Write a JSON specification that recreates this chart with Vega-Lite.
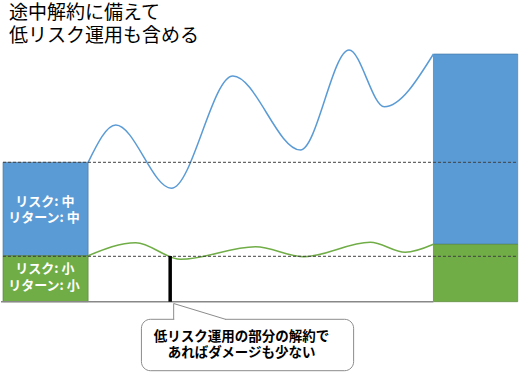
{
  "$schema": "https://vega.github.io/schema/vega-lite/v6.json",
  "width": 520,
  "height": 374,
  "padding": 0,
  "autosize": {"type": "fit", "contains": "padding"},
  "config": {"view": {"stroke": null}},
  "datasets": {
    "bars": [
      {"x": 2, "x2": 87.3, "y": 162.3, "y2": 255.7, "kind": "中"},
      {"x": 2, "x2": 87.3, "y": 255.7, "y2": 301.7, "kind": "小"},
      {"x": 433.3, "x2": 517.7, "y": 54, "y2": 244.3, "kind": "中"},
      {"x": 433.3, "x2": 517.7, "y": 244.3, "y2": 301.7, "kind": "小"}
    ],
    "blue": [
      {"x": 87.3, "y": 162.3},
      {"x": 115, "y": 125},
      {"x": 170.7, "y": 188.3},
      {"x": 232.3, "y": 76},
      {"x": 300, "y": 150},
      {"x": 348.7, "y": 50},
      {"x": 384, "y": 106.7},
      {"x": 433.3, "y": 54}
    ],
    "green": [
      {"x": 87.3, "y": 255.7},
      {"x": 135, "y": 242.7},
      {"x": 180, "y": 259.3},
      {"x": 255, "y": 246.7},
      {"x": 303.3, "y": 256.7},
      {"x": 370, "y": 242.3},
      {"x": 405, "y": 252.3},
      {"x": 433.3, "y": 244.3}
    ],
    "dashes": [
      {"x": 2, "x2": 517.7, "y": 162.3},
      {"x": 2, "x2": 517.7, "y": 256.3}
    ],
    "base": [{"x": 0, "x2": 433.3, "y": 301.7}],
    "cut": [{"x": 169.5, "y": 256, "y2": 301.7}],
    "box": [{"x": 140.7, "x2": 353.3, "y": 319.3, "y2": 370.7}],
    "gap": [{"x": 173.6, "x2": 224.4, "y": 319.3}],
    "pointerEdge": [
      {"x": 173, "y": 303.5, "x2": 173, "y2": 319.3},
      {"x": 173, "y": 303.5, "x2": 225, "y2": 319.3}
    ],
    "title": [
      {"x": 8, "y": 13, "t": "途中解約に備えて"},
      {"x": 8, "y": 35.5, "t": "低リスク運用も含める"}
    ],
    "barText": [
      {"x": 44, "y": 201.7, "t": "リスク: 中"},
      {"x": 43, "y": 218.3, "t": "リターン: 中"},
      {"x": 44, "y": 269.3, "t": "リスク: 小"},
      {"x": 43, "y": 286, "t": "リターン: 小"}
    ],
    "note": [
      {"x": 241, "y": 337, "t": "低リスク運用の部分の解約で"},
      {"x": 241, "y": 352.5, "t": "あればダメージも少ない"}
    ]
  },
  "encoding": {
    "x": {"field": "x", "type": "quantitative", "scale": {"domain": [0, 520], "nice": false, "zero": false}, "axis": null},
    "y": {"field": "y", "type": "quantitative", "scale": {"domain": [0, 374], "nice": false, "zero": false, "reverse": true}, "axis": null}
  },
  "layer": [
    {
      "data": {"name": "bars"},
      "mark": {"type": "rect", "strokeWidth": 1, "strokeOpacity": 0.6},
      "encoding": {
        "x2": {"field": "x2"},
        "y2": {"field": "y2"},
        "color": {"field": "kind", "type": "nominal", "scale": {"domain": ["中", "小"], "range": ["#5B9BD5", "#70AD47"]}, "legend": null},
        "stroke": {"field": "kind", "type": "nominal", "scale": {"domain": ["中", "小"], "range": ["#41719C", "#507E32"]}, "legend": null}
      }
    },
    {
      "data": {"name": "base"},
      "mark": {"type": "rule", "color": "#888888", "strokeWidth": 1.5},
      "encoding": {"x2": {"field": "x2"}}
    },
    {
      "data": {"name": "blue"},
      "mark": {"type": "line", "interpolate": "monotone", "color": "#5B9BD5", "strokeWidth": 1.5},
      "encoding": {"order": {"field": "x", "type": "quantitative"}}
    },
    {
      "data": {"name": "green"},
      "mark": {"type": "line", "interpolate": "monotone", "color": "#70AD47", "strokeWidth": 1.5},
      "encoding": {"order": {"field": "x", "type": "quantitative"}}
    },
    {
      "data": {"name": "dashes"},
      "mark": {"type": "rule", "color": "#404040", "strokeWidth": 1, "strokeDash": [3, 2]},
      "encoding": {"x2": {"field": "x2"}}
    },
    {
      "data": {"name": "cut"},
      "mark": {"type": "rule", "color": "#000000", "strokeWidth": 3.5},
      "encoding": {"y2": {"field": "y2"}}
    },
    {
      "data": {"name": "box"},
      "mark": {"type": "rect", "fill": "#ffffff", "stroke": "#8c8c8c", "strokeWidth": 1, "cornerRadius": 9},
      "encoding": {"x2": {"field": "x2"}, "y2": {"field": "y2"}}
    },
    {
      "data": {"name": "gap"},
      "mark": {"type": "rule", "color": "#ffffff", "strokeWidth": 2.5},
      "encoding": {"x2": {"field": "x2"}}
    },
    {
      "data": {"name": "pointerEdge"},
      "mark": {"type": "rule", "color": "#8c8c8c", "strokeWidth": 1},
      "encoding": {"x2": {"field": "x2"}, "y2": {"field": "y2"}}
    },
    {
      "data": {"name": "title"},
      "mark": {"type": "text", "align": "left", "baseline": "middle", "fontSize": 19, "font": "Noto Sans CJK JP", "color": "#000000"},
      "encoding": {"text": {"field": "t"}}
    },
    {
      "data": {"name": "barText"},
      "mark": {"type": "text", "align": "center", "baseline": "middle", "fontSize": 13, "fontWeight": "bold", "font": "Noto Sans CJK JP", "color": "#ffffff"},
      "encoding": {"text": {"field": "t"}}
    },
    {
      "data": {"name": "note"},
      "mark": {"type": "text", "align": "center", "baseline": "middle", "fontSize": 13.5, "fontWeight": "bold", "font": "Noto Sans CJK JP", "color": "#000000"},
      "encoding": {"text": {"field": "t"}}
    }
  ]
}
